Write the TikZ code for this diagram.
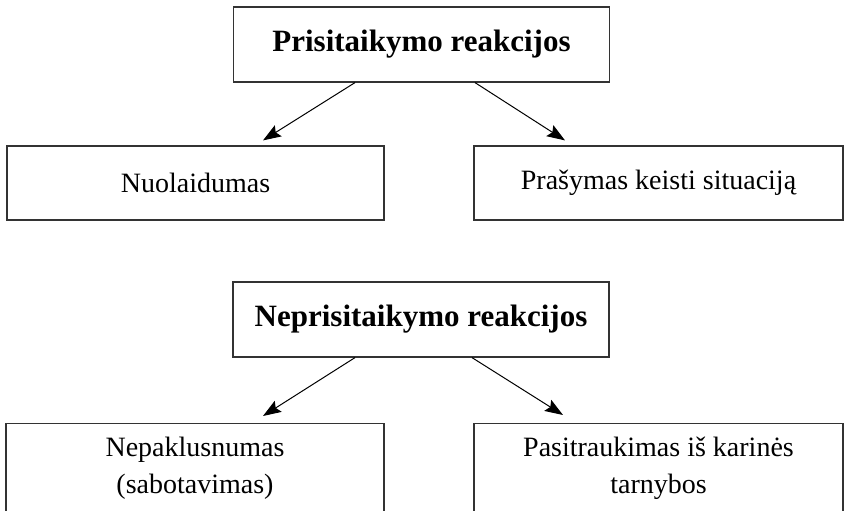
\documentclass[tikz,border=0pt]{standalone}
\usepackage{fontspec}
\setmainfont{Liberation Serif}
\usetikzlibrary{calc}
\usetikzlibrary{positioning}
\usetikzlibrary{arrows.meta}

\begin{document}
\begin{tikzpicture}[x=1pt, y=-1pt,
    box/.style={draw=black!80, line width=1.2pt, inner xsep=0pt, inner ysep=0pt,
        align=center, font=\fontsize{28}{37}\selectfont},
    headbox/.style={box, minimum width=376pt, minimum height=75pt,
        font=\bfseries\fontsize{31}{37}\selectfont},
    openbox/.style={box, anchor=north, inner ysep=13pt, text depth=70pt},
    arr/.style={-{Stealth[length=18pt, width=13pt, inset=3pt]}, line width=1pt}]
    \useasboundingbox (0,0) rectangle (844,511);
    \clip (0,0) rectangle (844,511);

    % adaptive reactions
    \node[headbox] (prisit) at (421.5,44.5) {Prisitaikymo reakcijos};
    \node[box, minimum width=377pt, minimum height=74pt] (nuol) at (195.5,183) {Nuolaidumas};
    \node[box, minimum width=369pt, minimum height=74pt] (prasym) at (658.5,183) {Prašymas keisti situaciją};
    \draw[arr] ($(prisit.south)+(-66.5,0)$) -- ($(nuol.north)+(67.5,-5)$);
    \draw[arr] ($(prisit.south)+(53.5,0)$) -- ($(prasym.north)+(-93.5,-5)$);

    % maladaptive reactions
    \node[headbox] (neprisit) at (421,319.5) {Neprisitaikymo reakcijos};
    \node[openbox, minimum width=378pt] (nepakl) at (195,423) {Nepaklusnumas\\(sabotavimas)};
    \node[openbox, minimum width=369pt] (pasitr) at (658.5,423) {Pasitraukimas iš karinės\\tarnybos};
    \draw[arr] ($(neprisit.south)+(-66,0)$) -- ($(nepakl.north)+(68,-7)$);
    \draw[arr] ($(neprisit.south)+(51,0)$) -- ($(pasitr.north)+(-95.5,-8)$);
\end{tikzpicture}
\end{document}
